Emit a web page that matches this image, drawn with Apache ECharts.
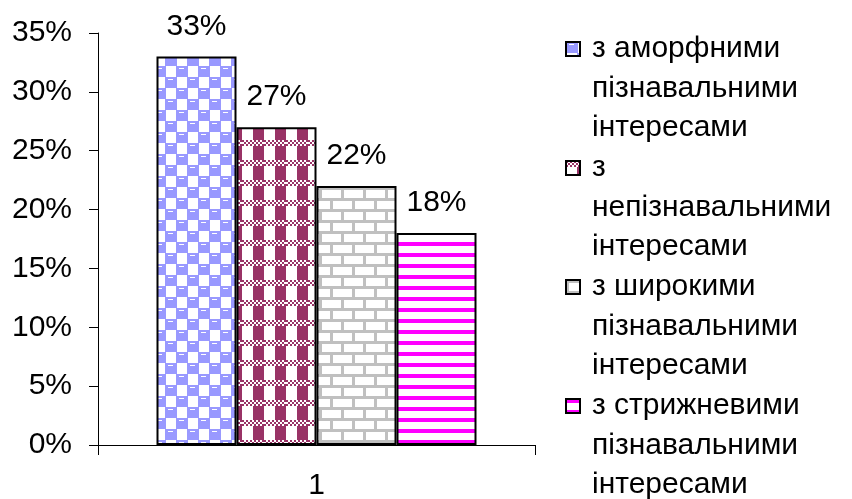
<!DOCTYPE html>
<html>
<head>
<meta charset="utf-8">
<script src="https://cdn.jsdelivr.net/npm/echarts@6/dist/echarts.min.js"></script>
<style>
html,body{margin:0;padding:0;background:#fff;}
#chart{width:852px;height:499px;}
</style>
</head>
<body>
<div id="chart"></div>
<script>
// ---- data ----
var categories = ['1'];
var seriesNames = [
  'з аморфними пізнавальними інтересами',
  'з непізнавальними інтересами',
  'з широкими пізнавальними інтересами',
  'з стрижневими пізнавальними інтересами'
];
var legendLines = [
  ['з аморфними', 'пізнавальними', 'інтересами'],
  ['з', 'непізнавальними', 'інтересами'],
  ['з широкими', 'пізнавальними', 'інтересами'],
  ['з стрижневими', 'пізнавальними', 'інтересами']
];
var amorphous = [33];
var nonCognitive = [27];
var broad = [22];
var core = [18];
var yTicks = [0, 5, 10, 15, 20, 25, 30, 35];

// ---- patterns ----
function tile(w, h, draw) {
  var c = document.createElement('canvas');
  c.width = w; c.height = h;
  var ctx = c.getContext('2d');
  ctx.fillStyle = '#ffffff';
  ctx.fillRect(0, 0, w, h);
  draw(ctx);
  return c;
}
var pat1 = tile(22, 22, function (ctx) {
  ctx.fillStyle = '#9999FF';
  ctx.fillRect(0, 0, 12, 11);
  ctx.fillRect(11, 11, 11, 11);
  ctx.fillRect(0, 10, 1, 12);
  ctx.fillStyle = '#ffffff';
  ctx.fillRect(3, 2, 5, 1);
  ctx.fillRect(14, 13, 5, 1);
});
var pat2 = tile(22, 20, function (ctx) {
  ctx.fillStyle = '#993366';
  for (var y = 0; y < 6; y += 2) {
    for (var x = 0; x < 22; x += 2) {
      if (((x + y) / 2) % 2 === 0) ctx.fillRect(x, y, 2, 2);
    }
  }
  ctx.fillRect(11, 6, 11, 14);
});
var pat3 = tile(22, 22, function (ctx) {
  ctx.fillStyle = '#C0C0C0';
  ctx.fillRect(0, 0, 22, 3);
  ctx.fillRect(0, 11, 22, 3);
  ctx.fillRect(0, 3, 3, 8);
  ctx.fillRect(11, 14, 3, 8);
});
var pat4 = tile(8, 11, function (ctx) {
  ctx.fillStyle = '#FF00FF';
  ctx.fillRect(0, 0, 8, 4);
});
var patterns = [pat1, pat2, pat3, pat4];
var seriesData = [amorphous, nonCognitive, broad, core];

var FONT = 'Liberation Sans';
var FS = 30;

var series = seriesNames.map(function (name, i) {
  return {
    name: name,
    type: 'bar',
    data: seriesData[i],
    barWidth: 80,
    barGap: '0%',
    itemStyle: {
      color: { image: patterns[i], repeat: 'repeat' },
      borderColor: '#000000',
      borderWidth: 2
    },
    label: {
      show: true,
      position: 'top',
      distance: 15,
      formatter: '{c}%',
      color: '#000',
      fontFamily: FONT,
      fontSize: FS
    },
    emphasis: { disabled: true }
  };
});

var LH = 39.6;
var iconCenters = [49, 168, 287, 406];
var legends = seriesNames.map(function (name, i) {
  return {
    data: [name],
    orient: 'vertical',
    left: 565,
    top: Math.round(iconCenters[i] - 2.5 * LH),
    padding: 0,
    itemWidth: 14,
    itemHeight: 14,
    icon: 'rect',
    selectedMode: false,
    formatter: function () { return ' \n \n' + legendLines[i].join('\n'); },
    textStyle: {
      fontFamily: FONT,
      fontSize: FS,
      lineHeight: LH,
      color: '#000',
      padding: [0, 0, 0, 7]
    }
  };
});

var chart = echarts.init(document.getElementById('chart'), null, { renderer: 'canvas' });
chart.setOption({
  animation: false,
  backgroundColor: '#ffffff',
  grid: { left: 98, right: 317, top: 33, bottom: 54, containLabel: false, outerBoundsMode: 'none' },
  legend: legends,
  xAxis: {
    type: 'category',
    data: categories,
    axisLine: { lineStyle: { color: '#000', width: 1 } },
    axisTick: { show: true, length: 10, lineStyle: { color: '#000' } },
    axisLabel: { color: '#000', fontFamily: FONT, fontSize: FS, margin: 26 }
  },
  yAxis: {
    type: 'value',
    min: yTicks[0],
    max: yTicks[yTicks.length - 1],
    interval: 5,
    axisLine: { show: true, lineStyle: { color: '#000', width: 1 } },
    axisTick: { show: true, length: 9, lineStyle: { color: '#000' } },
    splitLine: { show: false },
    axisLabel: { color: '#000', fontFamily: FONT, fontSize: FS, margin: 26, formatter: '{value}%' }
  },
  series: series
});
</script>
</body>
</html>
